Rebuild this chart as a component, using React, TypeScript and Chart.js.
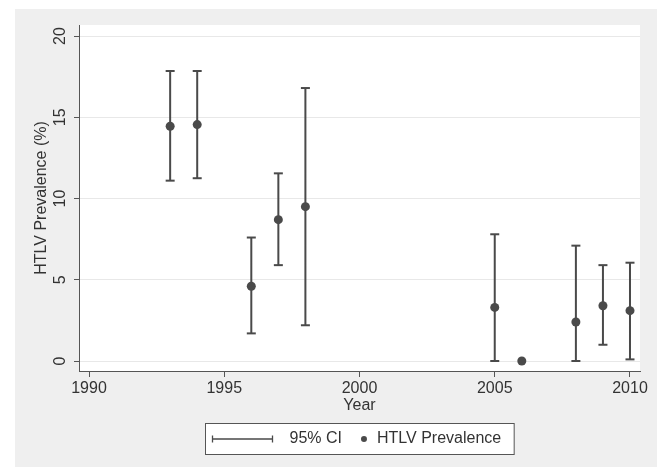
import React, { useEffect, useRef } from "react";
import { Chart, registerables } from "chart.js";

Chart.register(...registerables);

// ---- data ----
const years = [1993, 1994, 1996, 1997, 1998, 2005, 2006, 2008, 2009, 2010];
const prevalence = [14.45, 14.55, 4.6, 8.7, 9.5, 3.3, 0, 2.4, 3.4, 3.1];
const ciLower: (number | null)[] = [11.1, 11.25, 1.7, 5.9, 2.2, 0, null, 0, 1.0, 0.1];
const ciUpper: (number | null)[] = [17.85, 17.85, 7.6, 11.55, 16.8, 7.8, null, 7.1, 5.9, 6.05];
const xTicks = [1990, 1995, 2000, 2005, 2010];
const yTicks = [0, 5, 10, 15, 20];
const ciLabel = "95% CI";
const pointLabel = "HTLV Prevalence";
const xTitle = "Year";
const yTitle = "HTLV Prevalence (%)";

const FONT = "'Liberation Sans', Arial, Helvetica, sans-serif";
const TEXT = "#333333";
const MARK = "#4a4a4a";
const AXIS = "#555555";

const plotBg = {
  id: "plotBg",
  beforeDraw(chart: any) {
    const { ctx, chartArea: a } = chart;
    ctx.save();
    ctx.fillStyle = "#ffffff";
    ctx.fillRect(a.left, a.top, a.right - a.left, a.bottom - a.top);
    ctx.restore();
  },
};

const stataLegend = {
  id: "stataLegend",
  afterDraw(chart: any) {
    const { ctx, chartArea: a } = chart;
    const ds = chart.data.datasets;
    const ci = ds.find((d: any) => d.label === ciLabel);
    const pt = ds.find((d: any) => d.label === pointLabel);
    ctx.save();
    ctx.font = `16px ${FONT}`;
    const w1 = ctx.measureText(ci.label).width;
    const w2 = ctx.measureText(pt.label).width;
    const padL = 7, symW = 60, gap1 = 17, gap2 = 19, dotR = 3, gap3 = 10, padR = 13;
    const boxW = padL + symW + gap1 + w1 + gap2 + dotR * 2 + gap3 + w2 + padR;
    const cx = (a.left + a.right) / 2;
    const left = Math.round(cx - boxW / 2) + 0.5;
    const top = Math.round(a.bottom + 52) + 0.5;
    const h = 31;
    ctx.fillStyle = "#ffffff";
    ctx.fillRect(left, top, boxW, h);
    ctx.strokeStyle = AXIS;
    ctx.lineWidth = 1;
    ctx.strokeRect(left, top, boxW, h);
    const cy = top + h / 2;
    // CI symbol
    let x = left + padL;
    ctx.strokeStyle = ci.borderColor;
    ctx.lineWidth = 1.3;
    ctx.beginPath();
    ctx.moveTo(x, cy);
    ctx.lineTo(x + symW, cy);
    ctx.moveTo(x, cy - 3.5);
    ctx.lineTo(x, cy + 3.5);
    ctx.moveTo(x + symW, cy - 3.5);
    ctx.lineTo(x + symW, cy + 3.5);
    ctx.stroke();
    x += symW + gap1;
    ctx.fillStyle = TEXT;
    ctx.textBaseline = "middle";
    ctx.textAlign = "left";
    ctx.fillText(ci.label, x, cy);
    x += w1 + gap2;
    ctx.fillStyle = pt.backgroundColor;
    ctx.beginPath();
    ctx.arc(x + dotR, cy, dotR, 0, Math.PI * 2);
    ctx.fill();
    x += dotR * 2 + gap3;
    ctx.fillStyle = TEXT;
    ctx.fillText(pt.label, x, cy);
    ctx.restore();
  },
};

export default function App() {
  const ref = useRef<HTMLCanvasElement | null>(null);

  useEffect(() => {
    if (!ref.current) return;
    const ciData: { x: number; y: number | null }[] = [];
    years.forEach((yr, i) => {
      const lo = ciLower[i];
      const hi = ciUpper[i];
      if (lo === null || hi === null) return;
      ciData.push({ x: yr, y: lo }, { x: yr, y: hi }, { x: yr, y: null });
    });
    const ptData = years.map((yr, i) => ({ x: yr, y: prevalence[i] }));

    const tickFont = { family: FONT, size: 16 };

    const chart = new Chart(ref.current, {
      type: "scatter",
      data: {
        datasets: [
          {
            type: "line",
            label: ciLabel,
            data: ciData as any,
            borderColor: MARK,
            borderWidth: 2,
            showLine: true,
            spanGaps: false,
            pointStyle: "line",
            pointRadius: 4.5,
            pointBorderWidth: 2,
            pointBorderColor: MARK,
            pointBackgroundColor: MARK,
            tension: 0,
            fill: false,
            order: 1,
          } as any,
          {
            label: pointLabel,
            data: ptData,
            backgroundColor: MARK,
            borderColor: MARK,
            pointRadius: 4.5,
            pointBorderWidth: 0,
            order: 0,
          },
        ],
      },
      options: {
        animation: false,
        responsive: false,
        maintainAspectRatio: false,
        devicePixelRatio: 1,
        layout: { padding: { left: 0, top: 16, right: 17, bottom: 52 } },
        plugins: {
          legend: { display: false },
          tooltip: { enabled: false },
        },
        scales: {
          x: {
            type: "linear",
            min: 1989.63,
            max: 2010.37,
            afterBuildTicks: (s: any) => {
              s.ticks = xTicks.map((v) => ({ value: v }));
            },
            afterFit: (s: any) => {
              s.height = 44;
            },
            grid: {
              drawOnChartArea: false,
              drawTicks: true,
              tickLength: 6,
              tickColor: AXIS,
              tickWidth: 1,
            },
            border: { display: true, color: AXIS, width: 1 },
            ticks: {
              padding: 2,
              autoSkip: false,
              maxRotation: 0,
              font: tickFont,
              color: TEXT,
              callback: (v: any) => String(v),
            },
            title: {
              display: true,
              text: xTitle,
              font: tickFont,
              color: TEXT,
              padding: { top: 0, bottom: 0 },
            },
          },
          y: {
            type: "linear",
            min: -0.615,
            max: 20.68,
            afterBuildTicks: (s: any) => {
              s.ticks = yTicks.map((v) => ({ value: v }));
            },
            afterFit: (s: any) => {
              s.width = 64;
            },
            grid: {
              color: "#e8e8e8",
              lineWidth: 1,
              drawTicks: true,
              tickLength: 5,
              tickColor: AXIS,
              tickWidth: 1,
            },
            border: { display: true, color: AXIS, width: 1 },
            ticks: {
              minRotation: 90,
              maxRotation: 90,
              crossAlign: "center",
              padding: 5,
              autoSkip: false,
              font: tickFont,
              color: TEXT,
              callback: (v: any) => String(v),
            },
            title: {
              display: true,
              text: yTitle,
              font: tickFont,
              color: TEXT,
              padding: { top: 17, bottom: 0 },
            },
          },
        },
      },
      plugins: [plotBg, stataLegend],
    });
    return () => chart.destroy();
  }, []);

  return (
    <div
      style={{
        position: "absolute",
        left: 0,
        top: 0,
        width: 660,
        height: 467,
        background: "#ffffff",
        overflow: "hidden",
      }}
    >
      <div
        style={{
          position: "absolute",
          left: 15,
          top: 9,
          width: 642,
          height: 458,
          background: "#efefef",
        }}
      >
        <canvas
          ref={ref}
          width={642}
          height={458}
          style={{ display: "block", width: 642, height: 458 }}
        />
      </div>
    </div>
  );
}
